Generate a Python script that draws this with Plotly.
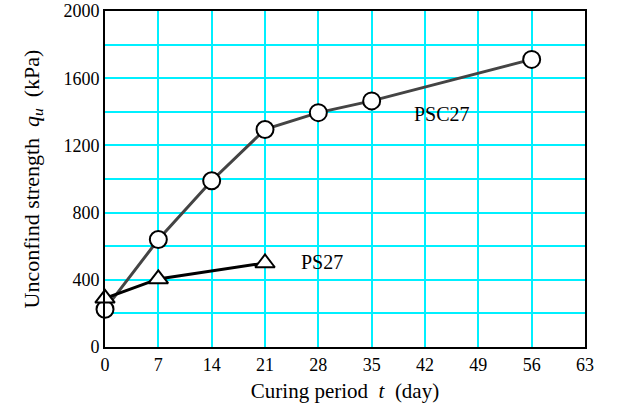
import plotly.graph_objects as go

days_psc = [0, 7, 14, 21, 28, 35, 56]
psc27 = [225, 640, 990, 1295, 1395, 1465, 1712]
days_ps = [0, 7, 21]
ps27 = [290, 405, 500]
x_ticks = [0, 7, 14, 21, 28, 35, 42, 49, 56, 63]
y_grid = [0, 200, 400, 600, 800, 1000, 1200, 1400, 1600, 1800, 2000]
y_labels = ["0", "", "400", "", "800", "", "1200", "", "1600", "", "2000"]

font = "Liberation Serif"
grid = "#00f0ff"

fig = go.Figure()
fig.add_trace(go.Scatter(
    x=days_psc, y=psc27, mode="lines+markers", cliponaxis=False,
    line=dict(color="#444444", width=3),
    marker=dict(symbol="circle", size=17, color="white",
                line=dict(color="black", width=2)),
))
fig.add_trace(go.Scatter(
    x=days_ps, y=ps27, mode="lines+markers", cliponaxis=False,
    line=dict(color="black", width=3),
    marker=dict(symbol="triangle-up", size=17, color="white",
                line=dict(color="black", width=2)),
))

fig.add_annotation(x=25.5, y=505, text="PS27", showarrow=False,
                   xanchor="left", yanchor="middle",
                   font=dict(family=font, size=20, color="black"))
fig.add_annotation(x=40.3, y=1385, text="PSC27", showarrow=False,
                   xanchor="left", yanchor="middle",
                   font=dict(family=font, size=20, color="black"))

fig.update_layout(
    width=626, height=409,
    margin=dict(l=105, r=41, t=11, b=62),
    paper_bgcolor="white", plot_bgcolor="white",
    showlegend=False,
    font=dict(family=font, size=18, color="black"),
)
fig.update_xaxes(
    range=[0, 63], tickmode="array", tickvals=x_ticks, automargin=False,
    showgrid=True, gridcolor=grid, gridwidth=1.5,
    showline=True, linecolor="black", linewidth=2, mirror=True,
    zeroline=False, ticks="", tickfont=dict(family=font, size=18),
    title=dict(text="Curing period  <i>t</i>  (day)",
               font=dict(family=font, size=21), standoff=10),
)
fig.update_yaxes(
    range=[0, 2000], tickmode="array", tickvals=y_grid, ticktext=y_labels,
    automargin=False,
    showgrid=True, gridcolor=grid, gridwidth=1.5,
    showline=True, linecolor="black", linewidth=2, mirror=True,
    zeroline=False, ticks="", tickfont=dict(family=font, size=18),
    title=dict(text="Unconfind strength  <i>q<sub>u</sub></i>  (kPa)",
               font=dict(family=font, size=22), standoff=18),
)

fig.write_html("out.html")
